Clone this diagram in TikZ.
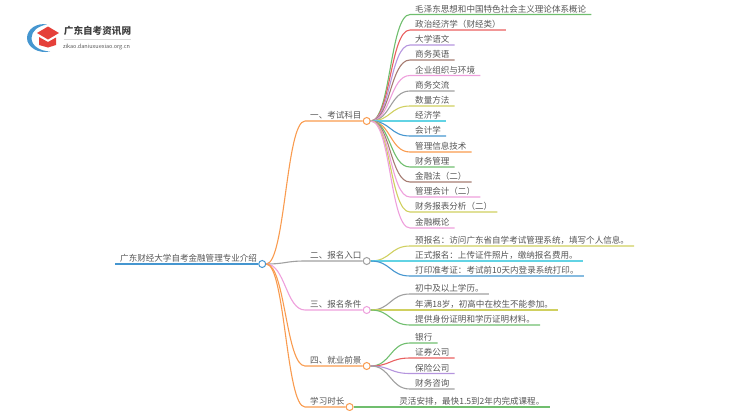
\documentclass[tikz,border=0pt]{standalone}
\usepackage{fontspec}
\setmainfont{Noto Sans CJK SC}
\definecolor{lineorange}{HTML}{F99B4F}
\definecolor{lineblue}{HTML}{4596D0}
\definecolor{linegray}{HTML}{A0A0A0}
\definecolor{linepink}{HTML}{EE9FDC}
\definecolor{linegreen}{HTML}{70BE6E}
\definecolor{linered}{HTML}{E95F5F}
\definecolor{linepurple}{HTML}{B595DE}
\definecolor{linebrown}{HTML}{A67C72}
\definecolor{lineolive}{HTML}{D0D060}
\definecolor{linecyan}{HTML}{62D3E4}
\definecolor{labeltext}{HTML}{555555}
\definecolor{hatred}{HTML}{E5403A}
\begin{document}
\begin{tikzpicture}[x=1pt,y=-1pt,
    label/.style={anchor=south west,inner xsep=5pt,inner ysep=1.2pt,font=\fontsize{8.55pt}{10pt}\selectfont,text=labeltext},
    dot/.style={circle,draw,fill=white,line width=1pt,inner sep=0pt,minimum size=7pt},
    link/.style={line width=1.1pt}]
  \useasboundingbox (0,0) rectangle (750,410);

  \fill[lineblue] (47,24.5) .. controls (37,22.5) and (27,29) .. (27,38) .. controls (27,47) and (38,54) .. (50,51.5)
    .. controls (40,51) and (31.5,46) .. (31.5,38) .. controls (31.5,31) and (38,26) .. (47,24.5) -- cycle;
  \fill[hatred] (37,33) -- (48,26.5) -- (59,33) -- (48,39.5) -- cycle;
  \fill[hatred] (39,37) -- (48,42) -- (56,37.5) -- (56,45) -- (48,47.5) -- (39,45) -- cycle;
  \node[anchor=center,inner sep=0pt,font=\fontsize{9.6pt}{11pt}\selectfont\bfseries,text=black!75] (logoname) at (97.5,31) {广东自考资讯网};
  \node[anchor=center,inner sep=0pt,font=\fontsize{5.5pt}{6pt}\selectfont,text=black!65] (logourl) at (96.5,47) {zikao.daniuxuexiao.org.cn};
  \draw[black!15,line width=0.5pt] (logoname.south west) ++(0,3.5) coordinate (rulea) -- (rulea -| logoname.south east);

  \node[label] (root) at (115,264) {广东财经大学自考金融管理专业介绍};
  \node[dot,draw=lineblue] (rootdot) at (root.south east) {};
  \draw[lineblue,line width=1.4pt] (root.south west) -- (rootdot);

  \node[label] (kemu) at (305,121) {一、考试科目};
  \node[dot,draw=lineorange] (kemudot) at (kemu.south east) {};
  \node[label] (baoming) at (305,261) {二、报名入口};
  \node[dot,draw=linegray] (baomingdot) at (baoming.south east) {};
  \node[label] (tiaojian) at (305,310) {三、报名条件};
  \node[dot,draw=linepink] (tiaojiandot) at (tiaojian.south east) {};
  \node[label] (jiuye) at (305,366) {四、就业前景};
  \node[dot,draw=lineorange] (jiuyedot) at (jiuye.south east) {};
  \node[label] (shichang) at (305,407) {学习时长};
  \node[dot,draw=lineorange] (shichangdot) at (shichang.south east) {};

  \draw[link,lineorange] (rootdot.east) .. controls +(19,0) and +(-19,0) .. (kemu.south west) -- (kemudot);
  \draw[link,linegray] (rootdot.east) .. controls +(19,0) and +(-19,0) .. (baoming.south west) -- (baomingdot);
  \draw[link,linepink] (rootdot.east) .. controls +(19,0) and +(-19,0) .. (tiaojian.south west) -- (tiaojiandot);
  \draw[link,lineorange] (rootdot.east) .. controls +(19,0) and +(-19,0) .. (jiuye.south west) -- (jiuyedot);
  \draw[link,lineorange] (rootdot.east) .. controls +(19,0) and +(-19,0) .. (shichang.south west) -- (shichangdot);

  \node[label] (k1) at (410,14.5) {毛泽东思想和中国特色社会主义理论体系概论};
  \node[label] (k2) at (410,30) {政治经济学（财经类）};
  \node[label] (k3) at (410,45) {大学语文};
  \node[label] (k4) at (410,60) {商务英语};
  \node[label] (k5) at (410,75.5) {企业组织与环境};
  \node[label] (k6) at (410,91) {商务交流};
  \node[label] (k7) at (410,106) {数量方法};
  \node[label] (k8) at (410,121) {经济学};
  \node[label] (k9) at (410,136) {会计学};
  \node[label] (k10) at (410,152) {管理信息技术};
  \node[label] (k11) at (410,167) {财务管理};
  \node[label] (k12) at (410,182) {金融法（二）};
  \node[label] (k13) at (410,197) {管理会计（二）};
  \node[label] (k14) at (410,212) {财务报表分析（二）};
  \node[label] (k15) at (410,228) {金融概论};

  \draw[link,linegreen] (kemudot.east) .. controls +(20,0) and +(-20,0) .. (k1.south west) -- (k1.south east);
  \draw[link,linered] (kemudot.east) .. controls +(20,0) and +(-20,0) .. (k2.south west) -- (k2.south east);
  \draw[link,linepurple] (kemudot.east) .. controls +(20,0) and +(-20,0) .. (k3.south west) -- (k3.south east);
  \draw[link,linebrown] (kemudot.east) .. controls +(20,0) and +(-20,0) .. (k4.south west) -- (k4.south east);
  \draw[link,linepink] (kemudot.east) .. controls +(20,0) and +(-20,0) .. (k5.south west) -- (k5.south east);
  \draw[link,linegray] (kemudot.east) .. controls +(20,0) and +(-20,0) .. (k6.south west) -- (k6.south east);
  \draw[link,lineolive] (kemudot.east) .. controls +(20,0) and +(-20,0) .. (k7.south west) -- (k7.south east);
  \draw[link,linecyan] (kemudot.east) .. controls +(20,0) and +(-20,0) .. (k8.south west) -- (k8.south east);
  \draw[link,lineblue] (kemudot.east) .. controls +(20,0) and +(-20,0) .. (k9.south west) -- (k9.south east);
  \draw[link,lineorange] (kemudot.east) .. controls +(20,0) and +(-20,0) .. (k10.south west) -- (k10.south east);
  \draw[link,linegreen] (kemudot.east) .. controls +(20,0) and +(-20,0) .. (k11.south west) -- (k11.south east);
  \draw[link,linebrown] (kemudot.east) .. controls +(20,0) and +(-20,0) .. (k12.south west) -- (k12.south east);
  \draw[link,linepink] (kemudot.east) .. controls +(20,0) and +(-20,0) .. (k13.south west) -- (k13.south east);
  \draw[link,lineolive] (kemudot.east) .. controls +(20,0) and +(-20,0) .. (k14.south west) -- (k14.south east);
  \draw[link,linepink] (kemudot.east) .. controls +(20,0) and +(-20,0) .. (k15.south west) -- (k15.south east);

  \node[label] (b1) at (410,246) {预报名：访问广东省自学考试管理系统，填写个人信息。};
  \node[label] (b2) at (410,261) {正式报名：上传证件照片，缴纳报名费用。};
  \node[label] (b3) at (410,276) {打印准考证：考试前10天内登录系统打印。};
  \draw[link,lineolive] (baomingdot.east) .. controls +(20,0) and +(-20,0) .. (b1.south west) -- (b1.south east);
  \draw[link,linecyan] (baomingdot.east) .. controls +(20,0) and +(-20,0) .. (b2.south west) -- (b2.south east);
  \draw[link,lineblue] (baomingdot.east) .. controls +(20,0) and +(-20,0) .. (b3.south west) -- (b3.south east);

  \node[label] (t1) at (410,294) {初中及以上学历。};
  \node[label] (t2) at (410,310) {年满18岁，初高中在校生不能参加。};
  \node[label] (t3) at (410,325) {提供身份证明和学历证明材料。};
  \draw[link,linegray] (tiaojiandot.east) .. controls +(20,0) and +(-20,0) .. (t1.south west) -- (t1.south east);
  \draw[link,lineolive] (tiaojiandot.east) .. controls +(20,0) and +(-20,0) .. (t2.south west) -- (t2.south east);
  \draw[link,linegreen] (tiaojiandot.east) .. controls +(20,0) and +(-20,0) .. (t3.south west) -- (t3.south east);

  \node[label] (j1) at (410,343) {银行};
  \node[label] (j2) at (410,358) {证券公司};
  \node[label] (j3) at (410,373.5) {保险公司};
  \node[label] (j4) at (410,389) {财务咨询};
  \draw[link,linegreen] (jiuyedot.east) .. controls +(20,0) and +(-20,0) .. (j1.south west) -- (j1.south east);
  \draw[link,linered] (jiuyedot.east) .. controls +(20,0) and +(-20,0) .. (j2.south west) -- (j2.south east);
  \draw[link,linepurple] (jiuyedot.east) .. controls +(20,0) and +(-20,0) .. (j3.south west) -- (j3.south east);
  \draw[link,linegray] (jiuyedot.east) .. controls +(20,0) and +(-20,0) .. (j4.south west) -- (j4.south east);

  \node[label,anchor=south east] (s1) at (549.5,407) {灵活安排，最快1.5到2年内完成课程。};
  \draw[link,linegreen] (shichangdot.east) -- (s1.south east);
\end{tikzpicture}
\end{document}
